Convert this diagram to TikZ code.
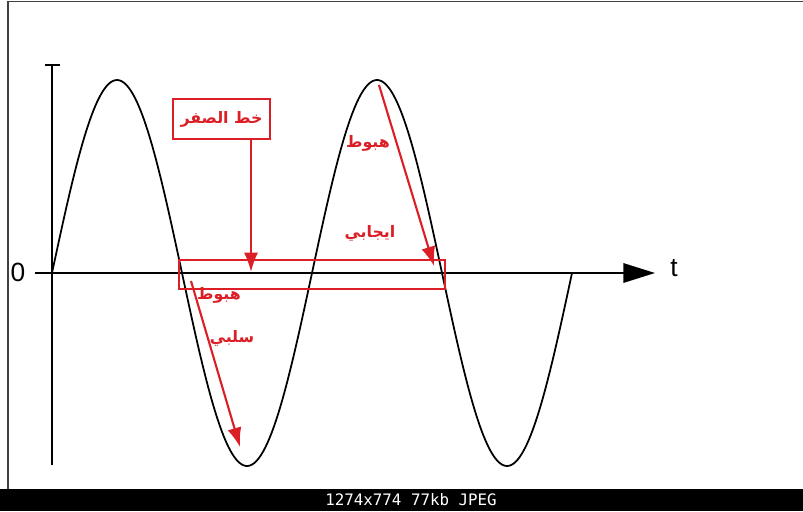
\documentclass[tikz,border=0pt]{standalone}
\usepackage{fontspec}
\setmainfont{Liberation Sans}
\newfontfamily\arabicfont[Script=Arabic]{DejaVu Sans}
\newfontfamily\barfont{DejaVu Sans Mono}
\TeXXeTstate=1
\usetikzlibrary{arrows.meta}
\definecolor{annot}{RGB}{220,30,38}
\tikzset{
  axis/.style={black, line width=1.2pt},
  wave/.style={black, line width=1pt},
  redline/.style={annot, line width=1.2pt},
  redarrow/.style={redline, -{Latex[length=11pt,width=8pt]}},
  arlabel/.style={annot, inner sep=0pt, font=\arabicfont\bfseries\fontsize{9}{9}\selectfont},
}
\begin{document}
\begin{tikzpicture}[x=0.02cm, y=-0.02cm]
  \useasboundingbox (0,0) rectangle (803,511);
  \fill[white] (0,0) rectangle (803,511);
  \fill[black] (0,489) rectangle (803,511);
  \draw[black!75, line width=1pt] (8,489) -- (8,1.5) -- (803,1.5);
  \node[white, font=\barfont\fontsize{9}{9}\selectfont] (caption) at (411,500) {1274x774 77kb JPEG};

  \draw[axis, -{Triangle[length=18pt,width=11pt]}] (35,273) -- (655,273);
  \draw[axis] (52,65) -- (52,465);
  \draw[axis] (45,65) -- (60,65);
  \node[font=\fontsize{15}{15}\selectfont] (origin) at (18,272) {0};
  \node[font=\fontsize{15}{15}\selectfont] (tlabel) at (674,268) {t};
  \draw[wave] plot[domain=52:572, samples=240] (\x, {273-193*sin((\x-52)*1.384615)});

  \node[redline, draw, minimum width=1.94cm, minimum height=0.8cm] (zerobox) at (221.5,119) {};
  \node[arlabel] (zerotext) at (zerobox) {\beginR خط الصفر\endR};
  \node[redline, draw, minimum width=5.32cm, minimum height=0.58cm] (band) at (312,274.5) {};
  \coordinate (zdrop) at (251,272);
  \draw[redarrow] (zerobox.south -| zdrop) -- (zdrop);

  \coordinate (crest) at (379,85);
  \coordinate (crestend) at (434,266);
  \draw[redarrow] (crest) -- (crestend);
  \node[arlabel] (fallup) at (368,143) {\beginR هبوط\endR};
  \node[arlabel] (positive) at (370,233) {\beginR ايجابي\endR};

  \coordinate (trough) at (191,281);
  \coordinate (troughend) at (240,447);
  \draw[redarrow] (trough) -- (troughend);
  \node[arlabel] (falldown) at (219,295) {\beginR هبوط\endR};
  \node[arlabel] (negative) at (232,338) {\beginR سلبي\endR};
\end{tikzpicture}
\end{document}
